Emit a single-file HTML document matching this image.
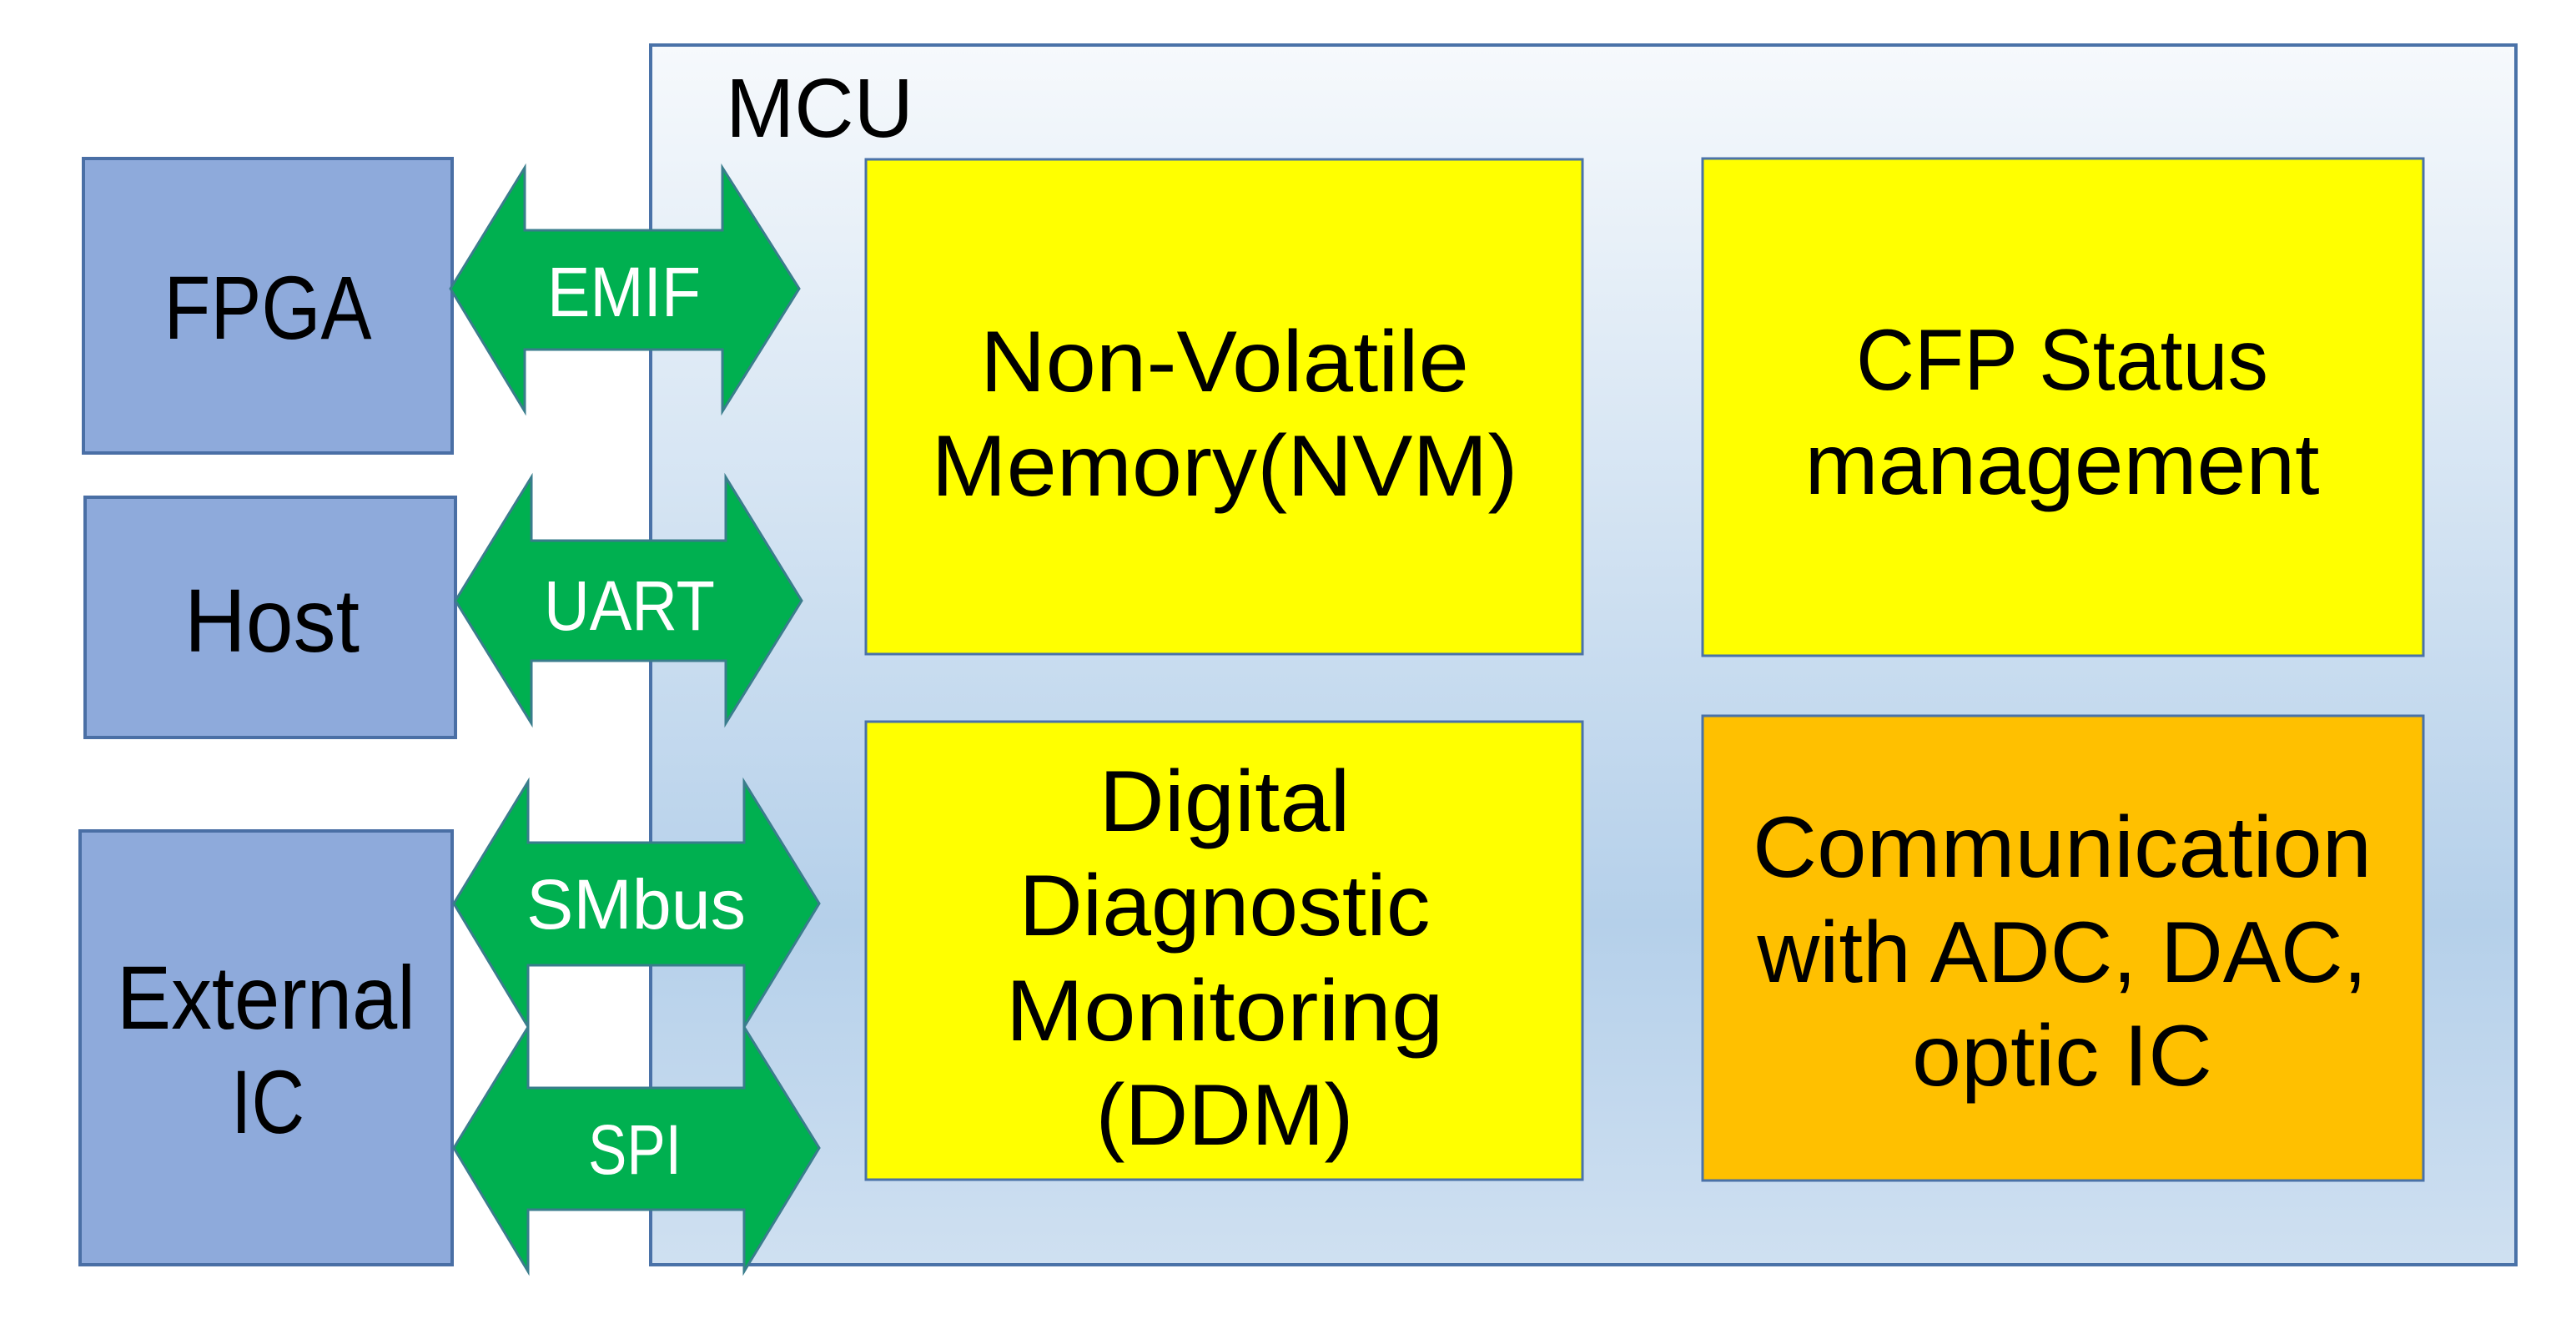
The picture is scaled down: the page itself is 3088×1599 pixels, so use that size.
<!DOCTYPE html>
<html><head><meta charset="utf-8"><style>
html,body{margin:0;padding:0;background:#fff;width:3088px;height:1599px;overflow:hidden}
svg{display:block}
text{font-family:"Liberation Sans",sans-serif}
</style></head><body>
<svg width="3088" height="1599" viewBox="0 0 3088 1599" xmlns="http://www.w3.org/2000/svg">
<defs>
<linearGradient id="g" x1="0" y1="0" x2="0" y2="1">
<stop offset="0" stop-color="#f6f9fc"/>
<stop offset="0.72" stop-color="#b5d0ea"/>
<stop offset="1" stop-color="#cfe0f1"/>
</linearGradient>
</defs>
<rect x="780" y="54" width="2236" height="1462" fill="url(#g)" stroke="#4a72a8" stroke-width="4"/>
<text x="870" y="164" font-size="100" fill="#000" textLength="225" lengthAdjust="spacingAndGlyphs">MCU</text>

<g fill="#8eaadb" stroke="#4a6fa5" stroke-width="4">
<rect x="100" y="190" width="442" height="353"/>
<rect x="102" y="596" width="444" height="288"/>
<rect x="96" y="996" width="446" height="520"/>
</g>
<g font-size="108" fill="#000" text-anchor="middle">
<text x="321" y="406" textLength="249" lengthAdjust="spacingAndGlyphs">FPGA</text>
<text x="326" y="781" textLength="210" lengthAdjust="spacingAndGlyphs">Host</text>
<text x="319" y="1233" textLength="358" lengthAdjust="spacingAndGlyphs">External</text>
<text x="321" y="1358" textLength="88" lengthAdjust="spacingAndGlyphs">IC</text>
</g>

<g fill="#00b050" stroke="#3a7d8c" stroke-width="3">
<polygon points="540,346 629,201 629,276 866,276 866,201 958,346 866,493 866,419 629,419 629,493"/>
<polygon points="546,720 637,572 637,648 870,648 870,572 961,720 870,867 870,792 637,792 637,867"/>
<polygon points="544,1083 633,937 633,1010 892,1010 892,937 982,1083 892,1231 892,1157 633,1157 633,1231"/>
<polygon points="544,1376 633,1231 633,1304 892,1304 892,1231 982,1376 892,1524 892,1450 633,1450 633,1524"/>
</g>
<g font-size="84" fill="#fff">
<text x="656" y="379" textLength="184" lengthAdjust="spacingAndGlyphs">EMIF</text>
<text x="652" y="755" textLength="205" lengthAdjust="spacingAndGlyphs">UART</text>
<text x="631" y="1113" textLength="263" lengthAdjust="spacingAndGlyphs">SMbus</text>
<text x="705" y="1407" textLength="112" lengthAdjust="spacingAndGlyphs">SPI</text>
</g>

<g stroke="#4a72a8" stroke-width="3">
<rect x="1038" y="191" width="859" height="593" fill="#ffff00"/>
<rect x="2041" y="190" width="864" height="596" fill="#ffff00"/>
<rect x="1038" y="865" width="859" height="549" fill="#ffff00"/>
<rect x="2041" y="858" width="864" height="557" fill="#ffc000"/>
</g>
<g font-size="104" fill="#000" text-anchor="middle">
<text x="1468" y="469" textLength="586" lengthAdjust="spacingAndGlyphs">Non-Volatile</text>
<text x="1468" y="594" textLength="703" lengthAdjust="spacingAndGlyphs">Memory(NVM)</text>
<text x="2472" y="467" textLength="494" lengthAdjust="spacingAndGlyphs">CFP Status</text>
<text x="2472" y="592" textLength="617" lengthAdjust="spacingAndGlyphs">management</text>
<text x="1468" y="996" textLength="301" lengthAdjust="spacingAndGlyphs">Digital</text>
<text x="1468" y="1121" textLength="493" lengthAdjust="spacingAndGlyphs">Diagnostic</text>
<text x="1468" y="1247" textLength="525" lengthAdjust="spacingAndGlyphs">Monitoring</text>
<text x="1468" y="1372" textLength="309" lengthAdjust="spacingAndGlyphs">(DDM)</text>
<text x="2472" y="1051" textLength="742" lengthAdjust="spacingAndGlyphs">Communication</text>
<text x="2472" y="1177" textLength="731" lengthAdjust="spacingAndGlyphs">with ADC, DAC,</text>
<text x="2472" y="1301" textLength="360" lengthAdjust="spacingAndGlyphs">optic IC</text>
</g>
</svg>
</body></html>
